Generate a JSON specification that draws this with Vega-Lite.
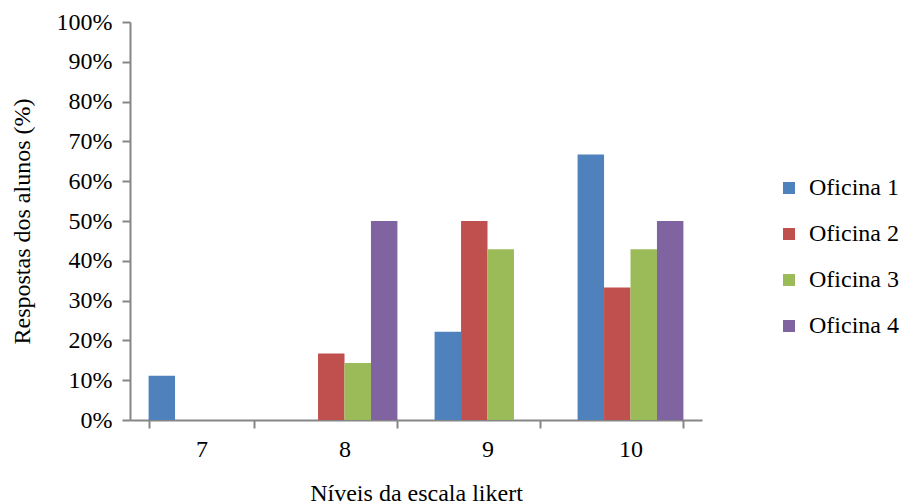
{
  "$schema": "https://vega.github.io/schema/vega-lite/v6.json",
  "width": 572,
  "height": 398,
  "autosize": {"type": "none"},
  "padding": {"left": 130, "top": 22, "right": 198, "bottom": 84},
  "background": "white",
  "config": {
    "view": {"stroke": null},
    "font": "Liberation Serif",
    "axis": {"labelFont": "Liberation Serif", "titleFont": "Liberation Serif", "labelColor": "black", "titleColor": "black", "titleFontWeight": "normal", "domainColor": "#868686", "tickColor": "#868686", "domainWidth": 2, "tickWidth": 2},
    "legend": {"labelFont": "Liberation Serif"}
  },
  "data": {
    "values": [
      {"nivel": "7", "oficina": "Oficina 1", "valor": 0.111},
      {"nivel": "7", "oficina": "Oficina 2", "valor": 0},
      {"nivel": "7", "oficina": "Oficina 3", "valor": 0},
      {"nivel": "7", "oficina": "Oficina 4", "valor": 0},
      {"nivel": "8", "oficina": "Oficina 1", "valor": 0},
      {"nivel": "8", "oficina": "Oficina 2", "valor": 0.167},
      {"nivel": "8", "oficina": "Oficina 3", "valor": 0.143},
      {"nivel": "8", "oficina": "Oficina 4", "valor": 0.5},
      {"nivel": "9", "oficina": "Oficina 1", "valor": 0.222},
      {"nivel": "9", "oficina": "Oficina 2", "valor": 0.5},
      {"nivel": "9", "oficina": "Oficina 3", "valor": 0.429},
      {"nivel": "9", "oficina": "Oficina 4", "valor": 0},
      {"nivel": "10", "oficina": "Oficina 1", "valor": 0.667},
      {"nivel": "10", "oficina": "Oficina 2", "valor": 0.333},
      {"nivel": "10", "oficina": "Oficina 3", "valor": 0.429},
      {"nivel": "10", "oficina": "Oficina 4", "valor": 0.5}
    ]
  },
  "mark": {"type": "bar"},
  "encoding": {
    "x": {
      "field": "nivel", "type": "nominal", "sort": ["7", "8", "9", "10"],
      "scale": {"paddingInner": 0.26, "paddingOuter": 0.13},
      "axis": {"title": "Níveis da escala likert", "labelAngle": 0, "labelFontSize": 24, "titleFontSize": 24, "tickBand": "extent", "tickSize": 8, "labelPadding": 9, "titlePadding": 20}
    },
    "xOffset": {"field": "oficina", "type": "nominal", "scale": {"paddingInner": 0, "paddingOuter": 0}},
    "y": {
      "field": "valor", "type": "quantitative",
      "scale": {"domain": [0, 1]},
      "axis": {"title": "Respostas dos alunos (%)", "format": ".0%", "values": [0, 0.1, 0.2, 0.3, 0.4, 0.5, 0.6, 0.7, 0.8, 0.9, 1], "grid": false, "labelFontSize": 24, "titleFontSize": 24, "tickSize": 8, "labelPadding": 10, "titlePadding": 22}
    },
    "color": {
      "field": "oficina", "type": "nominal",
      "scale": {"domain": ["Oficina 1", "Oficina 2", "Oficina 3", "Oficina 4"], "range": ["#4F81BD", "#C0504D", "#9BBB59", "#8064A2"]},
      "legend": {"title": null, "orient": "none", "legendX": 647, "legendY": 154, "symbolType": "square", "symbolSize": 144, "symbolStrokeWidth": 0, "labelFontSize": 24, "labelColor": "black", "rowPadding": 22, "labelOffset": 8, "padding": 0}
    }
  }
}
